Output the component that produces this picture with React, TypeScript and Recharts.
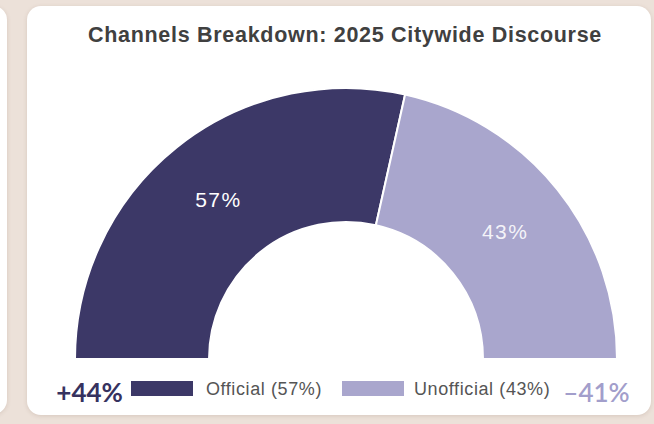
import { Cell, Legend, Pie, PieChart } from 'recharts';

const channels = ['Official', 'Unofficial'];
const shares = [57, 43];
const deltas = ['+44%', '–41%'];
const colors = ['#3c3867', '#a9a6cd'];
const deltaColors = ['#36325f', '#a29ecb'];
const labelColors = ['#ffffff', 'rgba(255,255,255,0.88)'];

const chartData = channels.map((name, i) => ({ name, value: shares[i] }));

const RADIAN = Math.PI / 180;
const sans = '"Liberation Sans", Arial, Helvetica, sans-serif';

const renderLabel = ({ cx, cy, midAngle, innerRadius, outerRadius, index }: any) => {
  const r = (innerRadius + outerRadius) / 2;
  const x = cx + r * Math.cos(-midAngle * RADIAN);
  const y = cy + r * Math.sin(-midAngle * RADIAN);
  return (
    <text
      x={x}
      y={y}
      fill={labelColors[index]}
      textAnchor="middle"
      dominantBaseline="central"
      fontFamily={sans}
      fontSize={21}
      letterSpacing={1.5}
    >
      {`${shares[index]}%`}
    </text>
  );
};

const renderLegend = ({ payload }: any) => {
  const items = payload || [];
  return (
    <div
      style={{
        display: 'flex',
        alignItems: 'center',
        justifyContent: 'center',
        height: 30,
        fontFamily: sans,
      }}
    >
      <span
        style={{
          fontFamily: 'Lato, sans-serif',
          fontWeight: 700,
          fontSize: 26,
          color: deltaColors[0],
          marginRight: 8,
          marginTop: 8,
        }}
      >
        {deltas[0]}
      </span>
      {items.map((entry: any, i: number) => (
        <span key={`item-${i}`} style={{ display: 'flex', alignItems: 'center', marginRight: i === 0 ? 20 : 13 }}>
          <span
            style={{
              display: 'inline-block',
              width: 62,
              height: 15,
              background: entry.color,
              marginRight: i === 0 ? 13 : 10,
            }}
          />
          <span style={{ fontSize: 18, letterSpacing: 0.6, color: '#555', marginTop: 2 }}>
            {`${entry.value} (${shares[i]}%)`}
          </span>
        </span>
      ))}
      <span
        style={{
          fontFamily: 'Lato, sans-serif',
          fontWeight: 600,
          fontSize: 26,
          color: deltaColors[1],
          marginTop: 8,
        }}
      >
        {deltas[1]}
      </span>
    </div>
  );
};

export default function App() {
  return (
    <div style={{ position: 'relative', width: 654, height: 424, background: '#ece1d9', overflow: 'hidden' }}>
      <style>{'body{margin:0}'}</style>
      <div
        style={{
          position: 'absolute',
          left: -30,
          top: 6,
          width: 37,
          height: 408,
          background: '#fff',
          borderRadius: 14,
          boxShadow: '0 1px 4px rgba(120,90,70,0.18)',
        }}
      />
      <div
        style={{
          position: 'absolute',
          left: 27,
          top: 6,
          width: 624,
          height: 409,
          background: '#fff',
          borderRadius: 14,
          boxShadow: '0 1px 4px rgba(120,90,70,0.18)',
          overflow: 'hidden',
        }}
      >
        <div
          style={{
            position: 'absolute',
            left: 0,
            top: 17,
            width: 636,
            textAlign: 'center',
            fontFamily: sans,
            fontWeight: 700,
            fontSize: 21.5,
            lineHeight: '24px',
            letterSpacing: 0.7,
            color: '#404040',
          }}
        >
          Channels Breakdown: 2025 Citywide Discourse
        </div>
        <PieChart width={624} height={409} margin={{ top: 0, right: 0, bottom: 0, left: 0 }}>
          <Pie
            data={chartData}
            dataKey="value"
            nameKey="name"
            cx={319}
            cy={353}
            startAngle={180}
            endAngle={0}
            innerRadius={137}
            outerRadius={271}
            stroke="#fff"
            strokeWidth={2}
            label={renderLabel}
            labelLine={false}
            isAnimationActive={false}
          >
            {chartData.map((_, index) => (
              <Cell key={`cell-${index}`} fill={colors[index % colors.length]} />
            ))}
          </Pie>
          <Legend
            content={renderLegend}
            verticalAlign="bottom"
            wrapperStyle={{ left: 0, top: 367, width: 632 }}
          />
        </PieChart>
      </div>
    </div>
  );
}
